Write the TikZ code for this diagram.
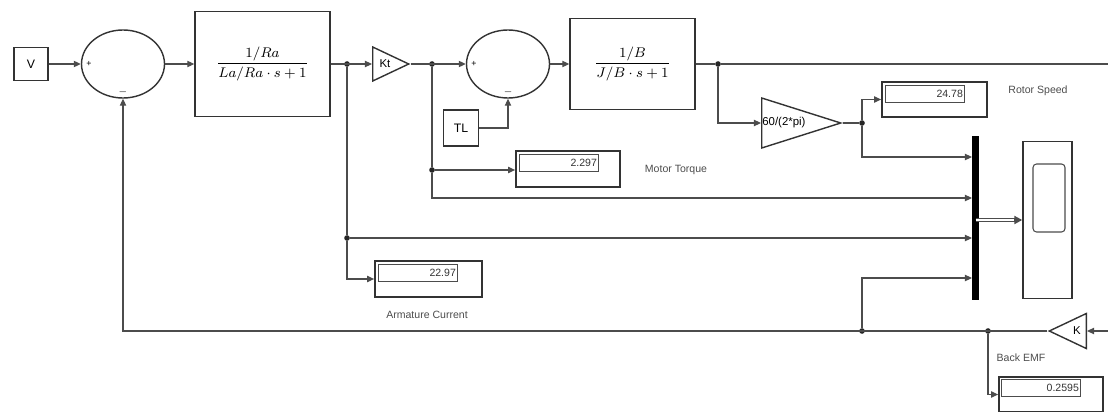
\documentclass[tikz,border=0pt]{standalone}
\usepackage{amsmath}
\usepackage{fontspec}
\setmainfont{Liberation Sans}
\usetikzlibrary{arrows.meta,shapes.geometric}
\tikzset{
  sz/.style 2 args={minimum width=#1*0.02cm,minimum height=#2*0.02cm},
  blk/.style={draw=black!80,line width=.8pt,fill=white,inner sep=0pt},
  sumblk/.style={blk,ellipse},
  gainblk/.style={blk,isosceles triangle,isosceles triangle stretches},
  dispout/.style={blk,line width=1pt},
  dispin/.style={draw=black!70,line width=.5pt,inner sep=0pt,sz={79}{17},anchor=north west},
  wire/.style={draw=black!70,line width=.6pt},
  sig/.style={wire,-{Triangle[length=4pt,width=3.6pt]}},
  jdot/.style={circle,fill=black!85,inner sep=0pt,minimum size=3.2pt},
  sgn/.style={font=\fontsize{5}{5}\selectfont,inner sep=0pt},
  lbl/.style={font=\fontsize{6}{7}\selectfont,text=black!70},
  val/.style={font=\fontsize{6}{7}\selectfont,anchor=east,inner sep=1pt,text=black!80},
  txt/.style={font=\fontsize{6.5}{7}\selectfont,inner sep=0pt},
}
\begin{document}
\begin{tikzpicture}[x=0.02cm,y=-0.02cm]
  \useasboundingbox (0,0) rectangle (1108,412);
  % forward path
  \node[blk,sz={34}{33},font=\fontsize{7}{8}\selectfont] (V) at (31,64) {V};
  \node[sumblk,sz={83}{68}] (sum1) at (123,64) {};
  \node[sgn] (s1p) at (89,64) {+};
  \node[sgn] (s1m) at (123,92) {$-$};
  \node[blk,sz={135}{105},font=\fontsize{8.5}{9}\selectfont] (tf1) at (262.5,64) {$\dfrac{1/Ra}{La/Ra\cdot s+1}$};
  \node[gainblk,sz={34}{36},anchor=west] (Kt) at (372,64) {};
  \node[txt] (Ktt) at (385,64) {Kt};
  \node[sumblk,sz={83}{68}] (sum2) at (508,64) {};
  \node[sgn] (s2p) at (474,64) {+};
  \node[sgn] (s2m) at (508,92) {$-$};
  \node[blk,sz={35}{36},font=\fontsize{7}{8}\selectfont] (TL) at (461,128) {TL};
  \node[blk,sz={125}{91},font=\fontsize{8.5}{9}\selectfont] (tf2) at (632.5,64) {$\dfrac{1/B}{J/B\cdot s+1}$};
  \node[gainblk,sz={50}{79},anchor=west] (g60) at (761,123) {};
  \node[txt,anchor=west] (g60t) at (762,123) {60/(2*pi)};
  % displays
  \node[dispout,sz={105}{35}] (rs) at (934.5,99.5) {};
  \node[dispin] (rsin) at ([shift={(4,4)}]rs.north west) {};
  \node[val] (rsv) at (rsin.east) {24.78};
  \node[lbl] (rsl) at (1038,91) {Rotor Speed};
  \node[dispout,sz={104}{36}] (mt) at (568,169) {};
  \node[dispin] (mtin) at ([shift={(4,4)}]mt.north west) {};
  \node[val] (mtv) at (mtin.east) {2.297};
  \node[lbl] (mtl) at (676,170) {Motor Torque};
  \node[dispout,sz={107}{36}] (ac) at (428.5,279) {};
  \node[dispin] (acin) at ([shift={(4,4)}]ac.north west) {};
  \node[val] (acv) at (acin.east) {22.97};
  \node[lbl] (acl) at (427,315) {Armature Current};
  \node[dispout,sz={104}{35}] (emf) at (1051,394.5) {};
  \node[dispin] (emfin) at ([shift={(3,3)}]emf.north west) {};
  \node[val] (emfv) at (emfin.east) {0.2595};
  \node[lbl] (emfl) at (1021,358) {Back EMF};
  % mux and scope
  \node[fill=black,sz={7}{164},inner sep=0pt] (mux) at (975.5,218) {};
  \node[blk,sz={49}{157}] (scope) at (1047.5,220) {};
  \node[draw=black!70,line width=.6pt,rounded corners=2pt,sz={32}{68}] (scr) at (1049,198) {};
  \node[gainblk,shape border rotate=180,sz={35}{37},anchor=east] (Kg) at (1087,331) {};
  \node[txt] (Kgt) at (1077,331) {K};
  % junctions
  \node[jdot] (j1) at (347,64) {};
  \node[jdot] (j2) at (432,64) {};
  \node[jdot] (j3) at (718,64) {};
  \node[jdot] (j4) at (862,123) {};
  \node[jdot] (j5) at (432,170) {};
  \node[jdot] (j6) at (347,238) {};
  \node[jdot] (j7) at (988,331) {};
  \node[jdot] (j8) at (862,331) {};
  \coordinate (m1) at (972,157);
  \coordinate (m2) at (972,198);
  \coordinate (m3) at (972,238);
  \coordinate (m4) at (972,278);
  \coordinate (mo) at (975.5,220);
  \coordinate (tout) at (1108,64);
  \coordinate (kin) at (1108,331);
  % signals
  \draw[sig] (V) -- (sum1);
  \draw[sig] (sum1) -- (tf1);
  \draw[sig] (tf1) -- (Kt);
  \draw[sig] (Kt.east) -- (sum2.west);
  \draw[sig] (sum2) -- (tf2);
  \draw[wire] (tf2) -- (j3);
  \draw[wire,line width=1.1pt] (j3) -- (tout);
  \draw[sig] (TL) -| (sum2.south);
  \draw[sig] (j3) |- (g60.west);
  \draw[wire] (g60.east) -- (j4);
  \draw[sig] (j4) |- (rs.west);
  \draw[sig] (j4) |- (m1);
  \draw[wire] (j2) -- (j5);
  \draw[sig] (j5) -- (mt.west |- j5);
  \draw[sig] (j5) |- (m2);
  \draw[wire] (j1) -- (j6);
  \draw[sig] (j6) -- (m3);
  \draw[sig] (j6) |- (ac.west);
  \draw[sig] (kin) -- (Kg.east);
  \draw[sig] (Kg.west) -- (sum1.south |- Kg.west) -- (sum1.south);
  \draw[sig] (j8) |- (m4);
  \draw[sig] (j7) |- (emf.west);
  \draw[sig,line width=2.2pt,-{Triangle[length=4.5pt,width=4.5pt]}] (mo) -- (mo -| scope.west);
  \draw[white,line width=.8pt] (mo) -- ([xshift=-4.5pt]mo -| scope.west);
\end{tikzpicture}
\end{document}
